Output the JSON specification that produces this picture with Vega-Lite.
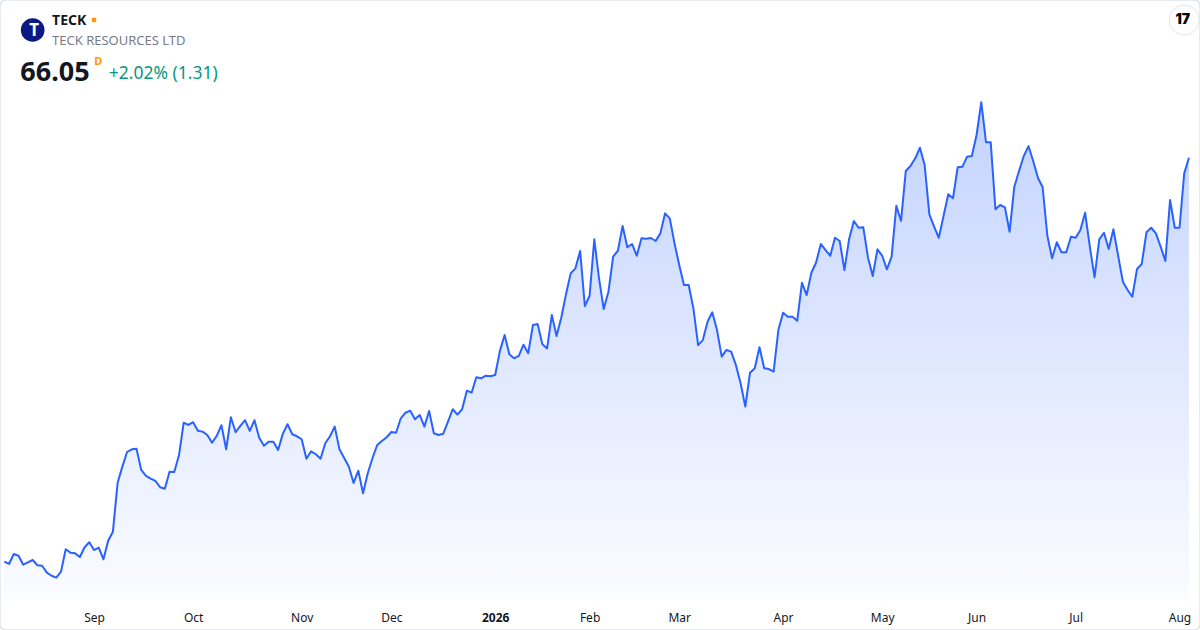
{
  "$schema": "https://vega.github.io/schema/vega-lite/v6.json",
  "width": 1200,
  "height": 630,
  "autosize": {"type": "none"},
  "padding": 0,
  "background": "#ffffff",
  "config": {
    "font": "Noto Sans",
    "view": {"stroke": "#e0e3eb", "strokeWidth": 1.5, "cornerRadius": 6}
  },
  "datasets": {
    "prices": [
      {"date":"2025-08-05","close":32.13},{"date":"2025-08-06","close":31.94},{"date":"2025-08-07","close":32.78},{"date":"2025-08-08","close":32.63},
      {"date":"2025-08-11","close":31.88},{"date":"2025-08-12","close":32.08},{"date":"2025-08-13","close":32.27},{"date":"2025-08-14","close":31.83},{"date":"2025-08-15","close":31.79},
      {"date":"2025-08-18","close":31.21},{"date":"2025-08-19","close":30.95},{"date":"2025-08-20","close":30.79},{"date":"2025-08-21","close":31.29},{"date":"2025-08-22","close":33.17},
      {"date":"2025-08-25","close":32.89},{"date":"2025-08-26","close":32.83},{"date":"2025-08-27","close":32.52},{"date":"2025-08-28","close":33.34},{"date":"2025-08-29","close":33.76},
      {"date":"2025-09-02","close":33.11},{"date":"2025-09-03","close":33.31},{"date":"2025-09-04","close":32.33},{"date":"2025-09-05","close":33.89},
      {"date":"2025-09-08","close":34.65},{"date":"2025-09-09","close":38.76},{"date":"2025-09-10","close":40.11},{"date":"2025-09-11","close":41.34},{"date":"2025-09-12","close":41.57},
      {"date":"2025-09-15","close":41.62},{"date":"2025-09-16","close":39.83},{"date":"2025-09-17","close":39.33},{"date":"2025-09-18","close":39.10},{"date":"2025-09-19","close":38.91},
      {"date":"2025-09-22","close":38.38},{"date":"2025-09-23","close":38.26},{"date":"2025-09-24","close":39.69},{"date":"2025-09-25","close":39.66},{"date":"2025-09-26","close":41.06},
      {"date":"2025-09-29","close":43.80},{"date":"2025-09-30","close":43.61},
      {"date":"2025-10-01","close":43.84},{"date":"2025-10-02","close":43.13},{"date":"2025-10-03","close":43.05},
      {"date":"2025-10-06","close":42.77},{"date":"2025-10-07","close":42.12},{"date":"2025-10-08","close":42.69},{"date":"2025-10-09","close":43.59},{"date":"2025-10-10","close":41.57},
      {"date":"2025-10-13","close":44.26},{"date":"2025-10-14","close":43.00},{"date":"2025-10-15","close":43.53},{"date":"2025-10-16","close":44.01},{"date":"2025-10-17","close":43.11},
      {"date":"2025-10-20","close":44.01},{"date":"2025-10-21","close":42.54},{"date":"2025-10-22","close":41.87},{"date":"2025-10-23","close":42.21},{"date":"2025-10-24","close":42.21},
      {"date":"2025-10-27","close":41.51},{"date":"2025-10-28","close":42.86},{"date":"2025-10-29","close":43.67},{"date":"2025-10-30","close":42.83},{"date":"2025-10-31","close":42.66},
      {"date":"2025-11-03","close":42.41},{"date":"2025-11-04","close":40.78},{"date":"2025-11-05","close":41.40},{"date":"2025-11-06","close":41.15},{"date":"2025-11-07","close":40.78},
      {"date":"2025-11-10","close":42.07},{"date":"2025-11-11","close":42.66},{"date":"2025-11-12","close":43.47},{"date":"2025-11-13","close":41.57},{"date":"2025-11-14","close":40.84},
      {"date":"2025-11-17","close":40.11},{"date":"2025-11-18","close":38.74},{"date":"2025-11-19","close":39.77},{"date":"2025-11-20","close":37.87},{"date":"2025-11-21","close":39.55},
      {"date":"2025-11-24","close":40.82},{"date":"2025-11-25","close":41.93},{"date":"2025-11-26","close":42.27},{"date":"2025-11-28","close":42.58},
      {"date":"2025-12-01","close":43.02},{"date":"2025-12-02","close":42.96},{"date":"2025-12-03","close":44.17},{"date":"2025-12-04","close":44.64},{"date":"2025-12-05","close":44.81},
      {"date":"2025-12-08","close":44.09},{"date":"2025-12-09","close":44.45},{"date":"2025-12-10","close":43.47},{"date":"2025-12-11","close":44.79},{"date":"2025-12-12","close":42.91},
      {"date":"2025-12-15","close":42.77},{"date":"2025-12-16","close":42.88},{"date":"2025-12-17","close":43.89},{"date":"2025-12-18","close":44.93},{"date":"2025-12-19","close":44.48},
      {"date":"2025-12-22","close":44.93},{"date":"2025-12-23","close":46.49},{"date":"2025-12-24","close":46.32},{"date":"2025-12-26","close":47.62},
      {"date":"2025-12-29","close":47.53},{"date":"2025-12-30","close":47.75},{"date":"2025-12-31","close":47.70},
      {"date":"2026-01-02","close":47.81},
      {"date":"2026-01-05","close":49.83},{"date":"2026-01-06","close":51.17},{"date":"2026-01-07","close":49.55},{"date":"2026-01-08","close":49.21},{"date":"2026-01-09","close":49.41},
      {"date":"2026-01-12","close":50.35},{"date":"2026-01-13","close":49.63},{"date":"2026-01-14","close":52.00},{"date":"2026-01-15","close":52.08},{"date":"2026-01-16","close":50.38},
      {"date":"2026-01-20","close":50.04},{"date":"2026-01-21","close":52.84},{"date":"2026-01-22","close":51.08},{"date":"2026-01-23","close":52.61},
      {"date":"2026-01-26","close":54.58},{"date":"2026-01-27","close":56.34},{"date":"2026-01-28","close":56.76},{"date":"2026-01-29","close":58.22},{"date":"2026-01-30","close":53.60},
      {"date":"2026-02-02","close":54.44},{"date":"2026-02-03","close":59.20},{"date":"2026-02-04","close":55.92},{"date":"2026-02-05","close":53.34},{"date":"2026-02-06","close":54.80},
      {"date":"2026-02-09","close":57.74},{"date":"2026-02-10","close":58.24},{"date":"2026-02-11","close":60.32},{"date":"2026-02-12","close":58.53},{"date":"2026-02-13","close":58.81},
      {"date":"2026-02-17","close":57.82},{"date":"2026-02-18","close":59.28},{"date":"2026-02-19","close":59.25},{"date":"2026-02-20","close":59.31},
      {"date":"2026-02-23","close":59.06},{"date":"2026-02-24","close":59.70},{"date":"2026-02-25","close":61.38},{"date":"2026-02-26","close":60.96},{"date":"2026-02-27","close":58.86},
      {"date":"2026-03-02","close":57.04},{"date":"2026-03-03","close":55.36},{"date":"2026-03-04","close":55.36},{"date":"2026-03-05","close":53.40},{"date":"2026-03-06","close":50.32},
      {"date":"2026-03-09","close":50.74},{"date":"2026-03-10","close":52.28},{"date":"2026-03-11","close":53.07},{"date":"2026-03-12","close":51.58},{"date":"2026-03-13","close":49.35},
      {"date":"2026-03-16","close":49.91},{"date":"2026-03-17","close":49.77},{"date":"2026-03-18","close":48.65},{"date":"2026-03-19","close":47.11},{"date":"2026-03-20","close":45.15},
      {"date":"2026-03-23","close":48.00},{"date":"2026-03-24","close":48.37},{"date":"2026-03-25","close":50.14},{"date":"2026-03-26","close":48.37},{"date":"2026-03-27","close":48.31},
      {"date":"2026-03-30","close":48.09},{"date":"2026-03-31","close":51.58},
      {"date":"2026-04-01","close":53.03},{"date":"2026-04-02","close":52.70},
      {"date":"2026-04-06","close":52.70},{"date":"2026-04-07","close":52.36},{"date":"2026-04-08","close":55.55},{"date":"2026-04-09","close":54.52},{"date":"2026-04-10","close":56.39},
      {"date":"2026-04-13","close":57.25},{"date":"2026-04-14","close":58.81},{"date":"2026-04-15","close":58.30},{"date":"2026-04-16","close":57.82},{"date":"2026-04-17","close":59.33},
      {"date":"2026-04-20","close":59.06},{"date":"2026-04-21","close":56.62},{"date":"2026-04-22","close":59.23},{"date":"2026-04-23","close":60.74},{"date":"2026-04-24","close":60.17},
      {"date":"2026-04-27","close":60.21},{"date":"2026-04-28","close":57.66},{"date":"2026-04-29","close":56.12},{"date":"2026-04-30","close":58.36},
      {"date":"2026-05-01","close":57.82},
      {"date":"2026-05-04","close":56.68},{"date":"2026-05-05","close":57.74},{"date":"2026-05-06","close":62.02},{"date":"2026-05-07","close":60.74},{"date":"2026-05-08","close":64.94},
      {"date":"2026-05-11","close":65.36},{"date":"2026-05-12","close":66.00},{"date":"2026-05-13","close":66.89},{"date":"2026-05-14","close":65.44},{"date":"2026-05-15","close":61.30},
      {"date":"2026-05-18","close":60.26},{"date":"2026-05-19","close":59.33},{"date":"2026-05-20","close":61.16},{"date":"2026-05-21","close":62.98},{"date":"2026-05-22","close":62.64},
      {"date":"2026-05-26","close":65.25},{"date":"2026-05-27","close":65.30},{"date":"2026-05-28","close":66.14},{"date":"2026-05-29","close":66.19},
      {"date":"2026-06-01","close":67.96},{"date":"2026-06-02","close":70.71},{"date":"2026-06-03","close":67.35},{"date":"2026-06-04","close":67.35},{"date":"2026-06-05","close":61.72},
      {"date":"2026-06-08","close":62.08},{"date":"2026-06-09","close":61.89},{"date":"2026-06-10","close":59.84},{"date":"2026-06-11","close":63.62},{"date":"2026-06-12","close":64.94},
      {"date":"2026-06-15","close":66.19},{"date":"2026-06-16","close":67.03},{"date":"2026-06-17","close":65.78},{"date":"2026-06-18","close":64.37},
      {"date":"2026-06-22","close":63.57},{"date":"2026-06-23","close":59.50},{"date":"2026-06-24","close":57.61},{"date":"2026-06-25","close":58.95},{"date":"2026-06-26","close":58.11},
      {"date":"2026-06-29","close":58.11},{"date":"2026-06-30","close":59.42},
      {"date":"2026-07-01","close":59.33},{"date":"2026-07-02","close":59.98},
      {"date":"2026-07-06","close":61.43},{"date":"2026-07-07","close":58.58},{"date":"2026-07-08","close":56.01},{"date":"2026-07-09","close":59.20},{"date":"2026-07-10","close":59.75},
      {"date":"2026-07-13","close":58.39},{"date":"2026-07-14","close":60.04},{"date":"2026-07-15","close":57.82},{"date":"2026-07-16","close":55.64},{"date":"2026-07-17","close":54.94},
      {"date":"2026-07-20","close":54.38},{"date":"2026-07-21","close":56.71},{"date":"2026-07-22","close":57.13},{"date":"2026-07-23","close":59.79},{"date":"2026-07-24","close":60.17},
      {"date":"2026-07-27","close":59.70},{"date":"2026-07-28","close":58.58},{"date":"2026-07-29","close":57.38},{"date":"2026-07-30","close":62.50},{"date":"2026-07-31","close":60.17},
      {"date":"2026-08-03","close":60.17},{"date":"2026-08-04","close":64.74},{"date":"2026-08-05","close":66.05}
    ],
    "ticker": [{"label": "TECK"}],
    "company": [{"label": "TECK RESOURCES LTD"}],
    "logo": [{"label": "T"}],
    "status": [{"label": "open"}],
    "last": [{"label": "66.05"}],
    "interval": [{"label": "D"}],
    "change": [{"label": "+2.02% (1.31)"}],
    "brand": [{"label": "17"}]
  },
  "layer": [
    {
      "data": {"name": "prices"},
      "mark": {
        "type": "area",
        "color": {
          "gradient": "linear", "x1": 0, "y1": 0, "x2": 0, "y2": 1,
          "stops": [
            {"offset": 0, "color": "rgba(41,98,255,0.28)"},
            {"offset": 1, "color": "rgba(41,98,255,0.02)"}
          ]
        }
      },
      "encoding": {
        "x": {
          "field": "date", "type": "ordinal",
          "scale": {"type": "point", "range": [2, 1191.3]},
          "axis": {
            "orient": "bottom", "offset": -22, "domain": false, "ticks": false, "tickSize": 0,
            "grid": false, "title": null, "labelAngle": 0, "labelPadding": 4,
            "labelFontSize": 12, "labelColor": "#131722", "labelFont": "Noto Sans",
            "labelOverlap": false, "labelBound": false,
            "values": ["2025-09-02","2025-10-01","2025-11-03","2025-12-01","2026-01-02","2026-02-02","2026-03-02","2026-04-01","2026-05-01","2026-06-01","2026-07-01","2026-08-03"],
            "labelExpr": "datum.value == '2026-01-02' ? '2026' : ['Jan','Feb','Mar','Apr','May','Jun','Jul','Aug','Sep','Oct','Nov','Dec'][toNumber(slice(datum.value, 5, 7)) - 1]",
            "labelFontWeight": {"condition": {"test": "datum.value == '2026-01-02'", "value": "bold"}, "value": "normal"}
          }
        },
        "y": {
          "field": "close", "type": "quantitative",
          "scale": {"domain": [26.394, 79.295], "nice": false, "zero": false},
          "axis": null
        },
        "y2": {"datum": 28.913}
      }
    },
    {
      "data": {"name": "prices"},
      "mark": {"type": "line", "color": "#2962ff", "strokeWidth": 2, "strokeJoin": "round"},
      "encoding": {
        "x": {"field": "date", "type": "ordinal"},
        "y": {"field": "close", "type": "quantitative"}
      }
    },
    {
      "data": {"name": "logo"},
      "mark": {"type": "point", "shape": "circle", "filled": true, "color": "#0c1a83", "size": 560, "opacity": 1, "dx": 1.5},
      "encoding": {
        "x": {"datum": "2025-08-13", "type": "ordinal"},
        "y": {"datum": 76.776, "type": "quantitative"}
      }
    },
    {
      "data": {"name": "logo"},
      "mark": {"type": "text", "color": "#ffffff", "fontSize": 17, "fontWeight": "bold", "font": "Noto Sans", "align": "center", "baseline": "middle", "dx": 1.5, "dy": 1},
      "encoding": {
        "x": {"datum": "2025-08-13", "type": "ordinal"},
        "y": {"datum": 76.776, "type": "quantitative"},
        "text": {"field": "label"}
      }
    },
    {
      "data": {"name": "ticker"},
      "mark": {"type": "text", "color": "#131722", "fontSize": 14, "fontWeight": "bold", "font": "Noto Sans", "align": "left", "baseline": "middle", "dx": 0.5},
      "encoding": {
        "x": {"datum": "2025-08-19", "type": "ordinal"},
        "y": {"datum": 77.49, "type": "quantitative"},
        "text": {"field": "label"}
      }
    },
    {
      "data": {"name": "status"},
      "mark": {"type": "point", "shape": "circle", "filled": true, "color": "#ff9800", "size": 24, "opacity": 1, "dx": -0.5},
      "encoding": {
        "x": {"datum": "2025-09-02", "type": "ordinal"},
        "y": {"datum": 77.616, "type": "quantitative"}
      }
    },
    {
      "data": {"name": "company"},
      "mark": {"type": "text", "color": "#787b86", "fontSize": 13, "font": "Noto Sans", "align": "left", "baseline": "middle", "dx": 0.5},
      "encoding": {
        "x": {"datum": "2025-08-19", "type": "ordinal"},
        "y": {"datum": 75.852, "type": "quantitative"},
        "text": {"field": "label"}
      }
    },
    {
      "data": {"name": "last"},
      "mark": {"type": "text", "color": "#131722", "fontSize": 27, "fontWeight": "bold", "font": "Noto Sans", "align": "left", "baseline": "middle", "dx": -3},
      "encoding": {
        "x": {"datum": "2025-08-11", "type": "ordinal"},
        "y": {"datum": 73.165, "type": "quantitative"},
        "text": {"field": "label"}
      }
    },
    {
      "data": {"name": "interval"},
      "mark": {"type": "text", "color": "#ff9800", "fontSize": 11, "fontWeight": "bold", "font": "Noto Sans", "align": "center", "baseline": "middle", "dx": -0.5},
      "encoding": {
        "x": {"datum": "2025-09-03", "type": "ordinal"},
        "y": {"datum": 74.089, "type": "quantitative"},
        "text": {"field": "label"}
      }
    },
    {
      "data": {"name": "change"},
      "mark": {"type": "text", "color": "#089981", "fontSize": 17.5, "font": "Noto Sans", "align": "left", "baseline": "middle", "dx": 0.5},
      "encoding": {
        "x": {"datum": "2025-09-05", "type": "ordinal"},
        "y": {"datum": 73.081, "type": "quantitative"},
        "text": {"field": "label"}
      }
    },
    {
      "data": {"name": "brand"},
      "mark": {"type": "point", "shape": "circle", "filled": true, "color": "#ffffff", "stroke": "#e0e3eb", "strokeWidth": 1, "size": 900, "opacity": 1, "dx": 1},
      "encoding": {
        "x": {"datum": "2026-08-04", "type": "ordinal"},
        "y": {"datum": 77.616, "type": "quantitative"}
      }
    },
    {
      "data": {"name": "brand"},
      "mark": {"type": "text", "color": "#000000", "fontSize": 14, "fontWeight": 900, "font": "Inter", "align": "center", "baseline": "middle", "dx": -1.5},
      "encoding": {
        "x": {"datum": "2026-08-04", "type": "ordinal"},
        "y": {"datum": 77.616, "type": "quantitative"},
        "text": {"field": "label"}
      }
    }
  ]
}
